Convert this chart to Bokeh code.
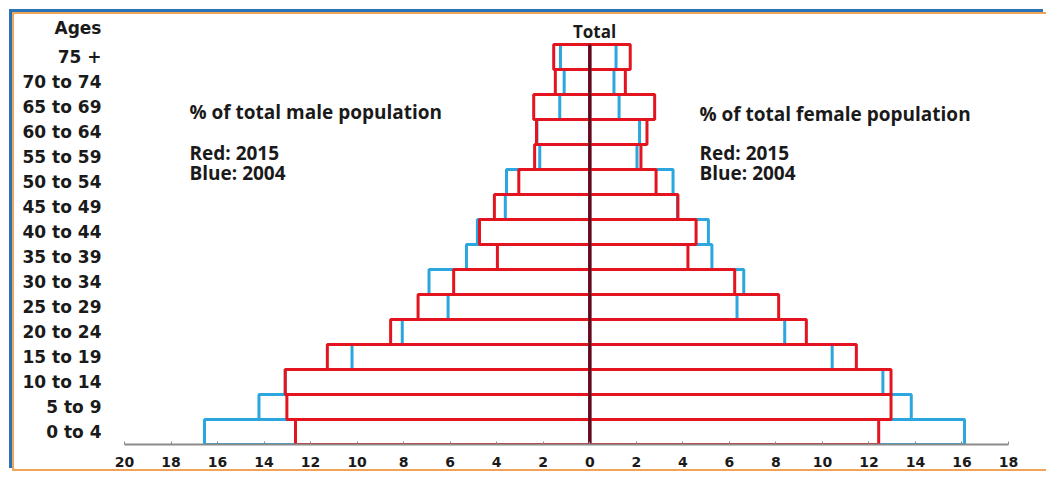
from bokeh.plotting import figure
from bokeh.models import ColumnDataSource, FixedTicker, Label
from bokeh.embed import file_html
from bokeh.resources import INLINE

# ---- data (bottom row first) ----
ages = ["0 to 4", "5 to 9", "10 to 14", "15 to 19", "20 to 24", "25 to 29",
        "30 to 34", "35 to 39", "40 to 44", "45 to 49", "50 to 54", "55 to 59",
        "60 to 64", "65 to 69", "70 to 74", "75 +"]
axis_title = "Ages"
male_2015 = [12.65, 13.02, 13.09, 11.28, 8.56, 7.38, 5.85, 3.97, 4.74, 4.10,
             3.05, 2.37, 2.29, 2.41, 1.48, 1.55]
male_2004 = [16.56, 14.22, 13.09, 10.22, 8.06, 6.09, 6.91, 5.30, 4.83, 3.63,
             3.58, 2.15, 2.27, 1.29, 1.10, 1.26]
female_2015 = [12.42, 12.95, 12.95, 11.46, 9.31, 8.12, 6.23, 4.22, 4.57, 3.79,
               2.85, 2.20, 2.46, 2.79, 1.53, 1.74]
female_2004 = [16.11, 13.82, 12.60, 10.42, 8.38, 6.33, 6.62, 5.25, 5.10, 3.77,
               3.58, 2.03, 2.14, 1.26, 1.04, 1.13]
x_ticks = [-20, -18, -16, -14, -12, -10, -8, -6, -4, -2, 0, 2, 4, 6, 8, 10, 12, 14, 16, 18]
x_tick_labels = ["20", "18", "16", "14", "12", "10", "8", "6", "4", "2", "0",
                 "2", "4", "6", "8", "10", "12", "14", "16", "18"]

RED = "#e3141f"
BLUE = "#2ba6de"
FONT = "Open Sans"

# canvas placed at page offset (OX, OY)
OX, OY = 14, 14
W, H = 1034, 459
FL, FR, FT, FB = 124, 1008, 20, 444     # frame edges in page pixels
L, R, T, B = FL - OX, OX + W - FR, FT - OY, OY + H - FB
nrows = len(ages)
ytop = (FB - FT) / 25.0
xs = (FR - FL) / 38.0

p = figure(width=W, height=H, x_range=(-20, 18), y_range=(0, ytop),
           output_backend="svg", toolbar_location=None,
           min_border_left=L, min_border_right=R, min_border_top=T, min_border_bottom=B)
p.background_fill_color = "white"
p.border_fill_color = "white"
p.outline_line_color = None
p.xgrid.visible = False
p.ygrid.visible = False
p.styles = {"margin-left": "12px", "margin-top": "12px",
            "border-left": "2px solid #f2a35a", "border-top": "2px solid #f2a35a",
            "border-bottom": "2px solid #f2a35a",
            "box-shadow": "-3px -3px 0 0 #2a72b8"}

bottoms = [i for i in range(nrows)]
tops = [i + 1 for i in range(nrows)]

def src(left, right):
    return ColumnDataSource(dict(left=left, right=right, bottom=bottoms, top=tops))

for data, color in [([-v for v in male_2004], BLUE), (female_2004, BLUE),
                    ([-v for v in male_2015], RED), (female_2015, RED)]:
    lefts = [min(v, 0) for v in data]
    rights = [max(v, 0) for v in data]
    p.quad(left="left", right="right", bottom="bottom", top="top", source=src(lefts, rights),
           fill_color=None, line_color=color, line_width=3)

p.segment(x0=[0], y0=[0], x1=[0], y1=[nrows], line_color="#5a0d1e", line_width=3)

def fx(px):
    return -20 + (px - FL) / xs

def fy(py):
    return (FB - py) / 25.0

# axes
xa = p.xaxis[0]
xa.ticker = FixedTicker(ticks=x_ticks)
xa.major_label_overrides = {t: s for t, s in zip(x_ticks, x_tick_labels)}
xa.bounds = (-20, 18)
xa.axis_line_color = "#8a8a8a"
xa.axis_line_width = 2
xa.major_tick_in = 3
xa.major_tick_out = 0
xa.major_tick_line_color = "#8a8a8a"
xa.minor_tick_line_color = None
xa.major_label_standoff = 12
xa.major_label_text_font = "DejaVu Sans"
xa.major_label_text_font_style = "bold"
xa.major_label_text_font_size = "14px"
xa.major_label_text_color = "#1a1a1a"

ya = p.yaxis[0]
title_y = round(fy(27), 3)
ya.ticker = FixedTicker(ticks=[i + 0.5 for i in range(nrows)] + [title_y])
overrides = {i + 0.5: a for i, a in enumerate(ages)}
overrides[title_y] = axis_title
ya.major_label_overrides = overrides
ya.axis_line_color = None
ya.major_tick_line_color = None
ya.minor_tick_line_color = None
ya.major_label_standoff = 17
ya.major_label_text_font = "DejaVu Sans"
ya.major_label_text_font_style = "bold"
ya.major_label_text_font_size = "17px"
ya.major_label_text_color = "#1a1a1a"

def lab(text, px, py, align="left", size="19px"):
    p.add_layout(Label(x=fx(px), y=fy(py), text=text, text_font=FONT, text_font_style="bold",
                       text_font_size=size, text_color="#1a1a1a", text_align=align,
                       text_baseline="middle"))

lab("Total", 594, 31, "center", "17px")
lab("% of total male population", 189, 111)
lab("Red: 2015", 189, 152)
lab("Blue: 2004", 189, 172)
lab("% of total female population", 699, 113)
lab("Red: 2015", 699, 152)
lab("Blue: 2004", 699, 172)

open("out.html", "w").write(file_html(p, INLINE))
